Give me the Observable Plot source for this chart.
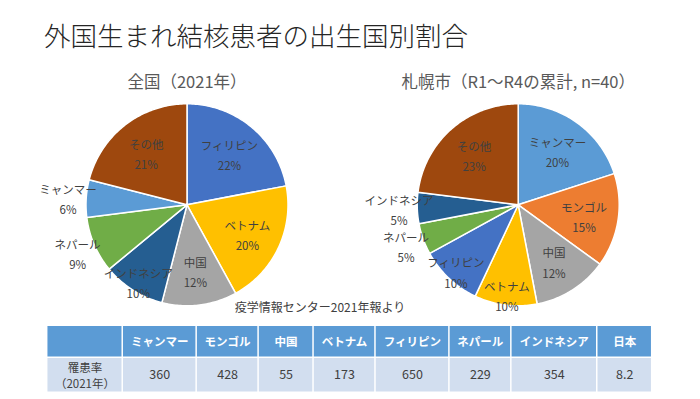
<!DOCTYPE html>
<html><head><meta charset="utf-8">
<script src="https://cdn.jsdelivr.net/npm/d3@7"></script>
<script src="https://cdn.jsdelivr.net/npm/@observablehq/plot@0.6"></script>
<style>
body{margin:0;background:#fff;font-family:"Noto Sans CJK JP",sans-serif;}
#wrap{position:relative;width:700px;height:399px;overflow:hidden;background:#fff;}
#title{position:absolute;left:44px;top:22px;font-size:26.5px;font-weight:300;color:#262626;white-space:nowrap;line-height:1;}
#pies{position:absolute;left:0;top:0;}
#source{position:absolute;left:0;width:640px;text-align:center;top:301px;font-size:12px;color:#404040;line-height:1;white-space:nowrap;}
#table{position:absolute;left:0;top:326px;}
</style></head><body>
<div id="wrap">
<div id="pies"></div>
<div id="title"></div>
<div id="source"></div>
<div id="table"></div>
</div>
<script>
// ---- data ----
const chartTitle = "外国生まれ結核患者の出生国別割合";
const sourceNote = "疫学情報センター2021年報より";
const regions = ["全国（2021年）", "札幌市（R1～R4の累計, n=40）"];
const nationalCategories = ["フィリピン", "ベトナム", "中国", "インドネシア", "ネパール", "ミャンマー", "その他"];
const nationalShares = [22, 20, 12, 10, 9, 6, 21];
const sapporoCategories = ["ミャンマー", "モンゴル", "中国", "ベトナム", "フィリピン", "ネパール", "インドネシア", "その他"];
const sapporoShares = [20, 15, 12, 10, 10, 5, 5, 23];
const tableCountries = ["ミャンマー", "モンゴル", "中国", "ベトナム", "フィリピン", "ネパール", "インドネシア", "日本"];
const incidenceRates = [360, 428, 55, 173, 650, 229, 354, 8.2];
const rowLabel = "罹患率\n（2021年）";

// ---- styles ----
const colorDomain = ["フィリピン", "ベトナム", "中国", "インドネシア", "ネパール", "ミャンマー", "モンゴル", "その他"];
const colorRange = ["#4472C4", "#FFC000", "#A5A5A5", "#255E91", "#70AD47", "#5B9BD5", "#ED7D31", "#9E480E"];
const FONT = '"Noto Sans CJK JP", sans-serif';

document.getElementById("title").textContent = chartTitle;
document.getElementById("source").textContent = sourceNote;

// ---- pie geometry from data ----
function buildPie(region, cats, shares) {
  const arcs = d3.pie().sort(null).value(d => d)(shares);
  const polys = [], labels = [];
  arcs.forEach((a, i) => {
    const n = Math.max(2, Math.ceil((a.endAngle - a.startAngle) / (Math.PI / 180)));
    polys.push({region, key: cats[i], x: 0, y: 0});
    for (let k = 0; k <= n; k++) {
      const t = a.startAngle + (a.endAngle - a.startAngle) * k / n;
      polys.push({region, key: cats[i], x: Math.sin(t), y: Math.cos(t)});
    }
    const share = shares[i] / 100;
    const lr = share >= 0.12 ? 0.66 : share >= 0.10 ? 0.9 : 1.18;
    const m = (a.startAngle + a.endAngle) / 2;
    labels.push({region, key: cats[i], x: lr * Math.sin(m), y: lr * Math.cos(m), text: cats[i] + "\n" + shares[i] + "%"});
  });
  return {polys, labels};
}
const p1 = buildPie(regions[0], nationalCategories, nationalShares);
const p2 = buildPie(regions[1], sapporoCategories, sapporoShares);
const polys = [...p1.polys, ...p2.polys];
const labels = [...p1.labels, ...p2.labels];

const R = 101, CY = 204.3, H = 330, facetW = 323.2, gap = 8, mL = 24.9;
const xHalf = facetW / 2 / R;

const pies = Plot.plot({
  width: 700, height: H,
  marginLeft: mL, marginRight: 700 - mL - (2 * facetW + gap), marginTop: 0, marginBottom: 0,
  style: {fontFamily: FONT, background: "transparent", overflow: "visible"},
  fx: {domain: regions, paddingInner: gap / (facetW + gap), paddingOuter: 0, round: false, axis: null},
  x: {domain: [-xHalf, xHalf], axis: null},
  y: {domain: [-(H - CY) / R, CY / R], axis: null},
  color: {domain: colorDomain, range: colorRange},
  marks: [
    Plot.line(polys, {fx: "region", x: "x", y: "y", z: d => d.region + "|" + d.key, fill: "key",
      stroke: "white", strokeWidth: 1.5, curve: "linear-closed", strokeLinejoin: "round"}),
    Plot.text(labels, {fx: "region", x: "x", y: "y", text: "text", fontSize: 11.5, lineHeight: 1.75, fill: "#404040"}),
    Plot.text(regions, {fx: d => d, x: 0, y: (CY - 82) / R, text: d => d, fontSize: 16.5, fill: "#595959"})
  ]
});
document.getElementById("pies").append(pies);

// ---- table ----
const labelColW = 75.6;
const colW = tableCountries.map(c => Math.max(55, 12 * c.length + 14));
const starts = [0, ...d3.cumsum([labelColW, ...colW])];
const total = starts[starts.length - 1];
const cols = [{text: "", value: rowLabel}, ...tableCountries.map((c, i) => ({text: c, value: String(incidenceRates[i])}))]
  .map((c, i) => ({...c, x1: starts[i], x2: starts[i + 1], xm: (starts[i] + starts[i + 1]) / 2, first: i === 0}));
const TH = 66;
const table = Plot.plot({
  width: 700, height: TH, marginLeft: 46.7, marginRight: 700 - 651.7, marginTop: 0, marginBottom: 0,
  style: {fontFamily: FONT, background: "transparent"},
  x: {domain: [0, total], axis: null},
  y: {domain: [TH, 0], axis: null},
  marks: [
    Plot.rect(cols, {x1: "x1", x2: "x2", y1: 0, y2: 30.5, fill: "#5B9BD5", insetLeft: 0.75, insetRight: 0.75}),
    Plot.rect(cols, {x1: "x1", x2: "x2", y1: 32, y2: 65.5, fill: "#D2DEEF", insetLeft: 0.75, insetRight: 0.75}),
    Plot.text(cols, {x: "xm", y: 16, text: "text", fill: "white", fontWeight: "bold", fontSize: 11.5}),
    Plot.text(cols.filter(d => !d.first), {x: "xm", y: 48.5, text: "value", fill: "#404040", fontSize: 12.5}),
    Plot.text(cols.filter(d => d.first), {x: "xm", y: 48.5, text: "value", fill: "#404040", fontSize: 11.5, lineHeight: 1.35})
  ]
});
document.getElementById("table").append(table);
</script>
</body></html>
